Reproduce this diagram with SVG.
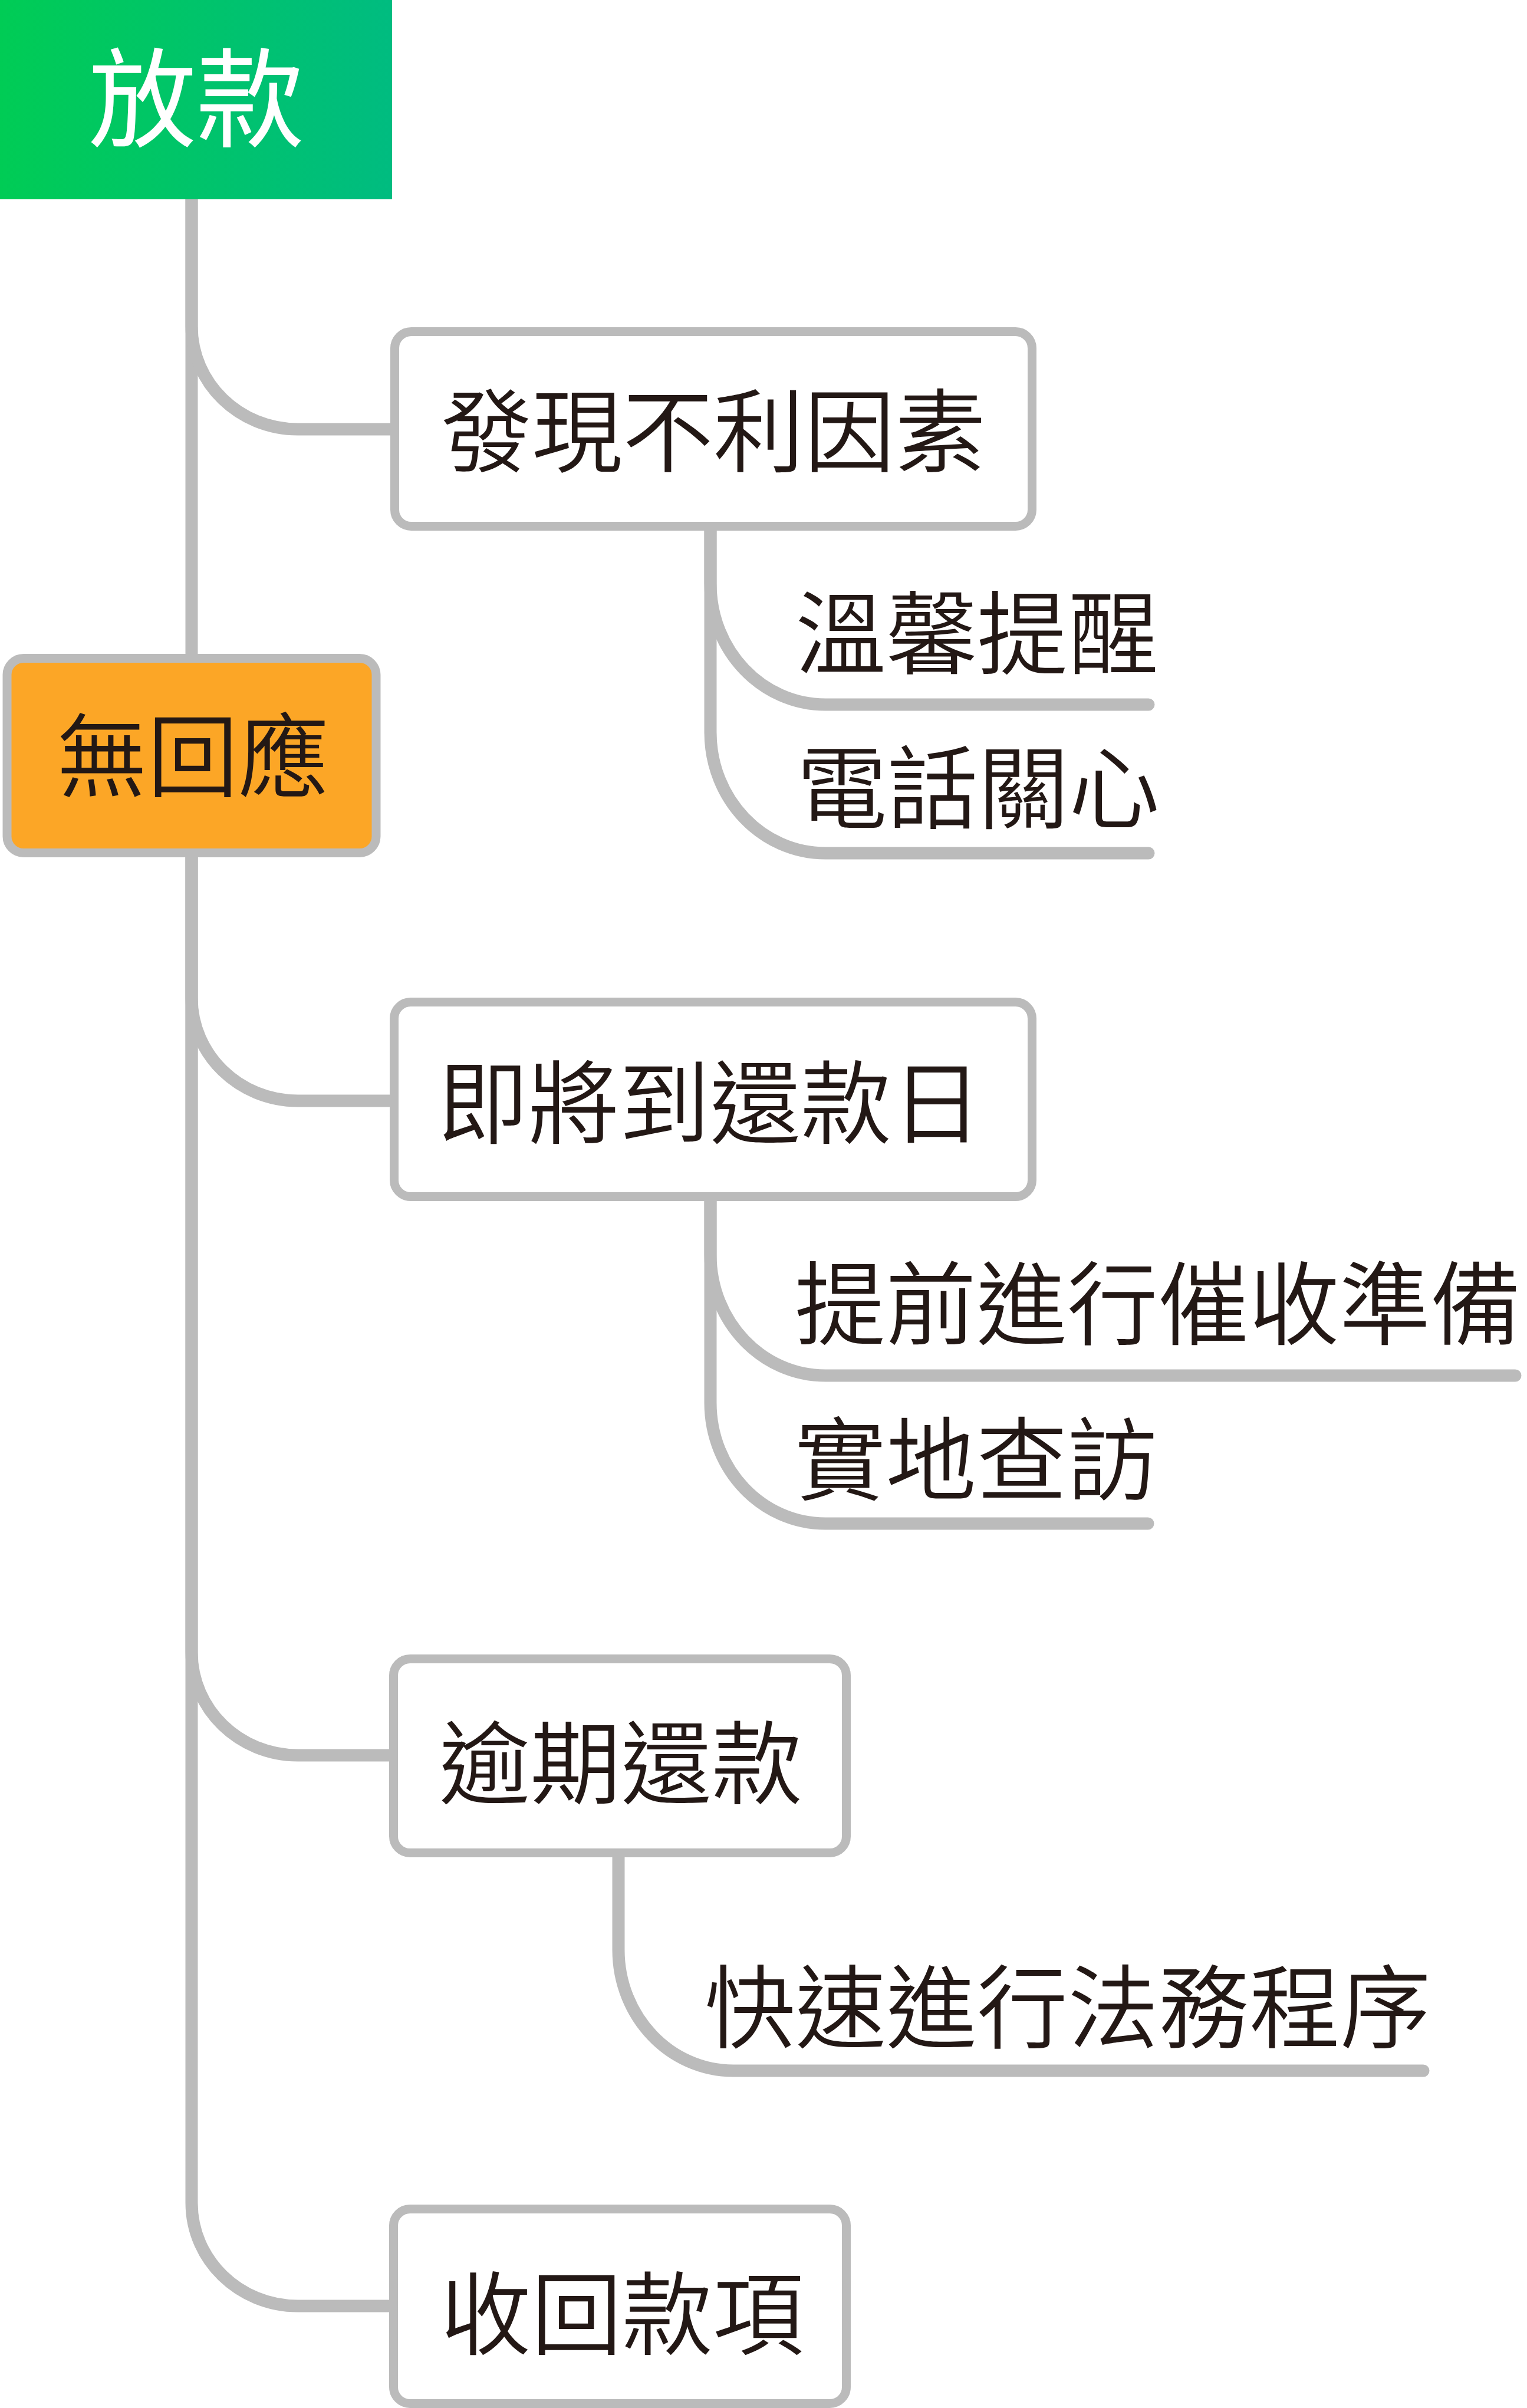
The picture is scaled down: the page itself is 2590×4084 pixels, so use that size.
<svg xmlns="http://www.w3.org/2000/svg" width="2590" height="4084" viewBox="0 0 2590 4084">
<style>
.conn{fill:none;stroke:#BBBBBB;stroke-width:21;stroke-linecap:round;stroke-linejoin:round}
.box{fill:#FFFFFF;stroke:#BBBBBB;stroke-width:15}
.t{font-family:"Noto Sans CJK TC","Noto Sans CJK SC",sans-serif;font-size:154px;font-weight:350;fill:#231815}
.mid{text-anchor:middle}
</style>
<defs>
<linearGradient id="gr" x1="0" y1="0" x2="1" y2="0">
<stop offset="0" stop-color="#00CC55"/>
<stop offset="1" stop-color="#00BC80"/>
</linearGradient>
</defs>
<rect width="2590" height="4084" fill="#FFFFFF"/>
<g id="connectors">
<path class="conn" d="M325 338 V1112"/>
<path class="conn" d="M325 338 V553 C325 649.7 405.6 728 505 728 H670"/>
<path class="conn" d="M325 1452 V1692 C325 1788.7 405.6 1867 505 1867 H668"/>
<path class="conn" d="M325 1452 V2802 C325 2898.7 405.6 2977 505 2977 H668"/>
<path class="conn" d="M325 1452 V3736 C325 3832.7 405.6 3911 505 3911 H668"/>
<path class="conn" d="M1205 900 V990 C1205 1103.2 1292.3 1195 1400 1195 H1948"/>
<path class="conn" d="M1205 900 V1242 C1205 1355.2 1292.3 1447 1400 1447 H1948"/>
<path class="conn" d="M1205 2037 V2128 C1205 2241.2 1292.3 2333 1400 2333 H2570"/>
<path class="conn" d="M1205 2037 V2379 C1205 2492.2 1292.3 2584 1400 2584 H1947"/>
<path class="conn" d="M1049 3150 V3307 C1049 3420.2 1136.3 3512 1244 3512 H2414"/>
</g>
<g id="root">
<rect x="0" y="0" width="665" height="338" fill="url(#gr)"/>
<text class="t mid" x="333" y="235" style="font-size:183px;font-weight:400;fill:#FFFFFF">放款</text>
</g>
<g id="no-response">
<rect x="12" y="1116.5" width="626" height="330" rx="28" fill="#FCA626" stroke="#BBBBBB" stroke-width="15"/>
<text class="t mid" x="327" y="1340">無回應</text>
</g>
<g id="node-adverse">
<rect class="box" x="669.5" y="562.5" width="1081" height="330" rx="28"/>
<text class="t mid" x="1210" y="789">發現不利因素</text>
</g>
<g id="node-reminder">
<text class="t" x="1349" y="1132">溫馨提醒</text>
</g>
<g id="node-phone">
<text class="t" x="1351" y="1394">電話關心</text>
</g>
<g id="node-due">
<rect class="box" x="668.5" y="1699.5" width="1082" height="330" rx="28"/>
<text class="t mid" x="1204" y="1928">即將到還款日</text>
</g>
<g id="node-prepare">
<text class="t" x="1348" y="2269">提前進行催收準備</text>
</g>
<g id="node-visit">
<text class="t" x="1348" y="2533">實地查訪</text>
</g>
<g id="node-overdue">
<rect class="box" x="667.5" y="2813.5" width="768" height="329" rx="28"/>
<text class="t mid" x="1053" y="3048">逾期還款</text>
</g>
<g id="node-legal">
<text class="t" x="1195" y="3462">快速進行法務程序</text>
</g>
<g id="node-collect">
<rect class="box" x="667.5" y="3746.5" width="768" height="330" rx="28"/>
<text class="t mid" x="1055" y="3982">收回款項</text>
</g>
</svg>
